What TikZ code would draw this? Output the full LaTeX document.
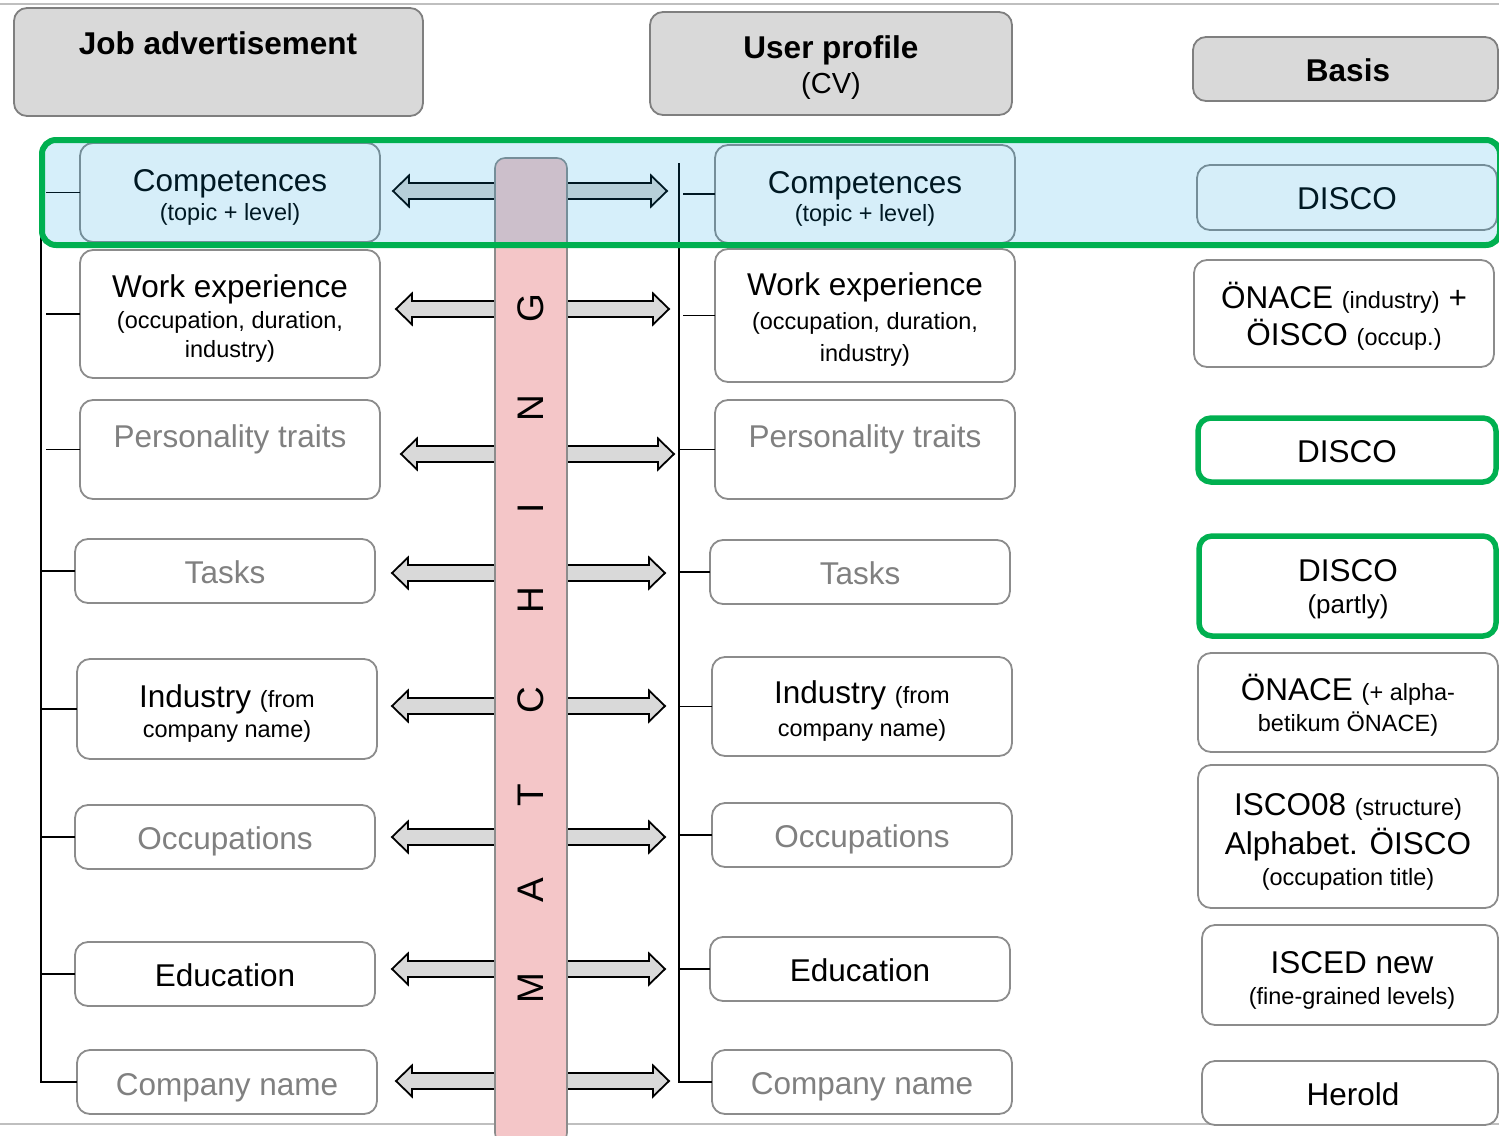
\documentclass[tikz,border=0pt]{standalone}
\usepackage{fontspec}
\setmainfont{Liberation Sans}
\newcommand\fA{\fontsize{31.5}{36}\selectfont}
\newcommand\fB{\fontsize{23.5}{27}\selectfont}
\definecolor{boxgray}{HTML}{8C8C8C}
\definecolor{hdrfill}{HTML}{D9D9D9}
\definecolor{hdrdraw}{HTML}{7F7F7F}
\definecolor{txtgray}{HTML}{808080}
\definecolor{grn}{HTML}{00B050}
\definecolor{pinkbar}{HTML}{F4C6C8}
\definecolor{bandblue}{RGB}{0,155,222}
\definecolor{arrgray}{HTML}{D9D9D9}
\definecolor{rulegray}{HTML}{BFBFBF}
\newcommand\mybox[6]{\node[#6, minimum width=#4-#2, minimum height=#5-#3, anchor=north west] (#1) at (#2,#3) {};}
\newcommand\dbl[4]{\draw[arr] (#1,#3) -- ++(16,-15.5) -- ++(0,7.5) -- (#2-16,#3-8) -- ++(0,-7.5) -- (#2,#3) -- ++(-16,15.5) -- ++(0,-7.5) -- (#1+16,#3+8) -- ++(0,7.5) -- cycle;}
\tikzset{
  box/.style={draw=boxgray, line width=1.8pt, fill=white, rounded corners=13pt, inner sep=0pt, outer sep=0pt},
  hdr/.style={box, fill=hdrfill, draw=hdrdraw},
  gbox/.style={box, draw=grn, line width=5.5pt},
  bar/.style={box, fill=pinkbar, draw=boxgray, line width=1.6pt, rounded corners=10pt},
  band/.style={draw=grn, line width=6pt, fill=bandblue, fill opacity=0.16, rounded corners=14pt, inner sep=0pt, outer sep=0pt},
  big/.style={font=\fA, anchor=base, inner sep=0pt},
  small/.style={font=\fB, anchor=base, inner sep=0pt},
  title/.style={font=\fA\bfseries, anchor=base, inner sep=0pt},
  gtxt/.style={text=txtgray},
  conn/.style={draw=black, line width=1.8pt},
  arr/.style={draw=black, line width=1.8pt, fill=arrgray, line join=miter},
  letter/.style={font=\fontsize{37}{40}\selectfont, rotate=90, inner sep=0pt}
}
\begin{document}
\begin{tikzpicture}[x=1pt,y=-1pt]
\useasboundingbox (0,0) rectangle (1499,1135);
\clip (0,0) rectangle (1499,1135);
% rules
\coordinate (rt1) at (0,4); \coordinate (rt2) at (1499,4);
\coordinate (rb1) at (0,1124); \coordinate (rb2) at (1499,1124);
\draw[rulegray, line width=2pt] (rt1) -- (rt2);
\draw[rulegray, line width=2pt] (rb1) -- (rb2);
% headers
\mybox{H1}{14}{8}{423}{116}{hdr}
\mybox{H2}{650}{12}{1012}{115}{hdr}
\mybox{H3}{1193}{37}{1498}{101}{hdr}
\node[title] (t-h1) at (218,54) {Job advertisement};
\node[title] (t-h2) at (831,58) {User profile};
\node[big, font=\fontsize{29}{33}\selectfont] (t-h2b) at (831,93) {(CV)};
\node[title] (t-h3) at (1348,81) {Basis};
% left column
\mybox{L1}{80}{143}{380}{242}{box}
\mybox{L2}{80}{250}{380}{378}{box}
\mybox{L3}{80}{400}{380}{499}{box}
\mybox{L4}{75}{539}{375}{603}{box}
\mybox{L5}{77}{659}{377}{759}{box}
\mybox{L6}{75}{805}{375}{869}{box}
\mybox{L7}{75}{942}{375}{1006}{box}
\mybox{L8}{77}{1050}{377}{1114}{box}
\node[big] (tl1a) at (230,191) {Competences};
\node[small] (tl1b) at (230,220) {(topic + level)};
\node[big] (tl2a) at (230,297) {Work experience};
\node[small] (tl2b) at (230,328) {(occupation, duration,};
\node[small] (tl2c) at (230,357) {industry)};
\node[big, gtxt] (tl3) at (230,447) {Personality traits};
\node[big, gtxt] (tl4) at (225,583) {Tasks};
\node[big] (tl5a) at (227,707) {Industry {\fB (from}};
\node[small] (tl5b) at (227,737) {company name)};
\node[big, gtxt] (tl6) at (225,849) {Occupations};
\node[big] (tl7) at (225,986) {Education};
\node[big, gtxt] (tl8) at (227,1095) {Company name};
% user column
\mybox{R1}{715}{145}{1015}{243}{box}
\mybox{R2}{715}{249}{1015}{382}{box}
\mybox{R3}{715}{400}{1015}{499}{box}
\mybox{R4}{710}{540}{1010}{604}{box}
\mybox{R5}{712}{657}{1012}{756}{box}
\mybox{R6}{712}{803}{1012}{867}{box}
\mybox{R7}{710}{937}{1010}{1001}{box}
\mybox{R8}{712}{1050}{1012}{1114}{box}
\node[big] (tr1a) at (865,193) {Competences};
\node[small] (tr1b) at (865,221) {(topic + level)};
\node[big] (tr2a) at (865,295) {Work experience};
\node[small] (tr2b) at (865,329) {(occupation, duration,};
\node[small] (tr2c) at (865,361) {industry)};
\node[big, gtxt] (tr3) at (865,447) {Personality traits};
\node[big, gtxt] (tr4) at (860,584) {Tasks};
\node[big] (tr5a) at (862,703) {Industry {\fB (from}};
\node[small] (tr5b) at (862,736) {company name)};
\node[big, gtxt] (tr6) at (862,847) {Occupations};
\node[big] (tr7) at (860,981) {Education};
\node[big, gtxt] (tr8) at (862,1094) {Company name};
% basis column
\mybox{B1}{1197}{165}{1497}{230}{box}
\mybox{B2}{1194}{260}{1494}{367}{box}
\mybox{B3}{1198}{418}{1496}{482}{gbox}
\mybox{B4}{1199}{536}{1496}{636}{gbox}
\mybox{B5}{1198}{653}{1498}{752}{box}
\mybox{B6}{1198}{765}{1498}{908}{box}
\mybox{B7}{1202}{925}{1498}{1025}{box}
\mybox{B8}{1202}{1061}{1498}{1125}{box}
\node[big] (tb1) at (1347,209) {DISCO};
\node[big] (tb2a) at (1344,308) {ÖNACE {\fB (industry)} +};
\node[big] (tb2b) at (1344,345) {ÖISCO {\fB (occup.)}};
\node[big] (tb3) at (1347,462) {DISCO};
\node[big] (tb4a) at (1348,581) {DISCO};
\node[big, font=\fontsize{26}{30}\selectfont] (tb4b) at (1348,613) {(partly)};
\node[big] (tb5a) at (1348,700) {ÖNACE {\fB (+ alpha-}};
\node[small] (tb5b) at (1348,731) {betikum ÖNACE)};
\node[big] (tb6a) at (1348,815) {ISCO08 {\fB (structure)}};
\node[big] (tb6b) at (1348,854) {Alphabet. ÖISCO};
\node[small] (tb6c) at (1348,885) {(occupation title)};
\node[big] (tb7a) at (1352,973) {ISCED new};
\node[small] (tb7b) at (1352,1004) {(fine-grained levels)};
\node[big] (tb8) at (1353,1105) {Herold};
% spines
\coordinate (spL) at (41,0);
\coordinate (spLg) at (46,0);
\coordinate (spR) at (679,0);
\coordinate (spRg) at (683,0);
\coordinate (rtop) at (679,163);
\draw[conn] (spL |- L1.west) -- (spL |- L8.west) -- (L8.west);
\foreach \b in {L1,L2,L3} \draw[conn] (\b.west) -- (spLg |- \b.west);
\foreach \b in {L4,L5,L6,L7} \draw[conn] (\b.west) -- (spL |- \b.west);
\draw[conn] (rtop) -- (spR |- R8.west) -- (R8.west);
\foreach \b in {R1,R2} \draw[conn] (\b.west) -- (spRg |- \b.west);
\foreach \b in {R3,R4,R5,R6,R7} \draw[conn] (\b.west) -- (spR |- \b.west);
% double arrows
\dbl{393}{667}{191}{}
\dbl{396}{669}{309}{}
\dbl{401}{674}{454}{}
\dbl{392}{665}{573}{}
\dbl{392}{665}{706}{}
\dbl{392}{665}{837}{}
\dbl{392}{665}{969}{}
\dbl{396}{669}{1081}{}
% matching bar
\node[bar, minimum width=72, minimum height=985, anchor=north west] (bar) at (495,158) {};
\foreach \l/\yy [count=\i] in {M/988,A/890,T/795,C/700,H/600,I/508,N/408,G/308}
  \node[letter] (m\i) at (531,\yy) {\l};
% band
\node[band, minimum width=1458, minimum height=105, anchor=north west] (band) at (42,140) {};
\end{tikzpicture}
\end{document}
